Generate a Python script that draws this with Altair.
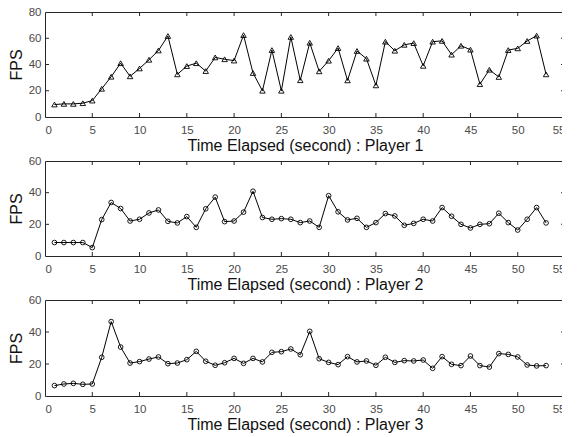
import altair as alt
import pandas as pd

time_s = list(range(1, 54))

fps_p1 = [9.5, 10, 10, 10.5, 12.5, 21.5, 30.7, 41, 31, 37,
          43.6, 50.7, 61.7, 32.5, 38.8, 41, 35, 45.4, 44, 43,
          62.4, 33.5, 20, 51, 20, 61, 28, 56.6, 34.8, 42.9,
          52.5, 27.9, 50.3, 44.4, 24.1, 57.4, 50.5, 55, 56.3, 39,
          57.4, 58, 47.5, 54.3, 51.3, 25, 36, 30.5, 51, 52.3,
          57.9, 62, 32.5]

fps_p2 = [8.5, 8.5, 8.5, 8.5, 5.3, 23, 33.8, 30, 22.1, 23.2,
          27.2, 29.1, 21.9, 20.9, 24.9, 18.1, 29.8, 37.2, 21.7, 22.1,
          27.7, 40.9, 24.3, 23.2, 23.6, 23.2, 21.1, 22.1, 18.1, 38.1,
          27.9, 22.8, 23.8, 18.1, 21.1, 26.8, 25.3, 19.4, 20.6, 23.2,
          22.1, 30.6, 25.1, 20, 17.7, 20, 20.4, 27, 21.1, 16.4,
          23.2, 30.6, 20.9]

fps_p3 = [6.5, 7.5, 7.9, 7.3, 7.5, 24.2, 46.5, 30.6, 20.6, 21.5,
          23.1, 24.4, 20.2, 20.6, 22.7, 27.9, 21.7, 19.2, 20.8, 23.5,
          20.4, 23.5, 21.3, 27.3, 27.7, 29.4, 25.8, 40.4, 23.3, 21,
          19.6, 24.6, 21.3, 21.9, 19.2, 24.2, 21, 22.1, 21.9, 22.5,
          17.3, 24.6, 19.8, 19, 25, 19, 18.1, 26.5, 26, 24.4,
          19.4, 18.8, 19]

x_ticks = [0, 5, 10, 15, 20, 25, 30, 35, 40, 45, 50, 55]
y_ticks_p1 = [0, 20, 40, 60, 80]
y_ticks_p23 = [0, 20, 40, 60]
x_titles = ["Time Elapsed (second) : Player 1",
            "Time Elapsed (second) : Player 2",
            "Time Elapsed (second) : Player 3"]

FONT = "Liberation Sans"
AX = "#262626"
W = 520


def panel(values, shape, size, ymax, yticks, xtitle, height):
    df = pd.DataFrame({"t": time_s, "fps": values})
    xs = alt.Scale(domain=[0, 55], nice=False, zero=False)
    ys = alt.Scale(domain=[0, ymax], nice=False)
    x = alt.X("t:Q", scale=xs,
              axis=alt.Axis(values=x_ticks, title=xtitle, format="d"))
    y = alt.Y("fps:Q", scale=ys,
              axis=alt.Axis(values=yticks, title="FPS", format="d"))
    line = alt.Chart(df).mark_line(color="black", strokeWidth=1).encode(x=x, y=y)
    pts = alt.Chart(df).mark_point(shape=shape, size=size, filled=False,
                                   color="black", strokeWidth=0.9,
                                   opacity=1).encode(x=x, y=y)
    xt = pd.DataFrame({"t": x_ticks[1:-1]})
    yt = pd.DataFrame({"fps": yticks[1:-1]})
    tk = dict(size=8, thickness=1, clip=True, color=AX, opacity=1)
    bottom = alt.Chart(xt).mark_tick(orient="vertical", **tk).encode(x=x, y=alt.value(height))
    top = alt.Chart(xt).mark_tick(orient="vertical", **tk).encode(x=x, y=alt.value(0))
    left = alt.Chart(yt).mark_tick(orient="horizontal", **tk).encode(y=y, x=alt.value(0))
    right = alt.Chart(yt).mark_tick(orient="horizontal", **tk).encode(y=y, x=alt.value(W))
    return alt.layer(line, pts, bottom, top, left, right).properties(width=W, height=height)


p1 = panel(fps_p1, "triangle-up", 30, 80, y_ticks_p1, x_titles[0], 105)
p2 = panel(fps_p2, "circle", 22, 60, y_ticks_p23, x_titles[1], 95)
p3 = panel(fps_p3, "circle", 22, 60, y_ticks_p23, x_titles[2], 96)

chart = alt.vconcat(p1, p2, p3, spacing=0).properties(
    padding={"left": -1, "top": -3, "right": -4, "bottom": 0},
    background="white",
).configure_view(
    stroke=AX, strokeWidth=1
).configure_axis(
    domain=False, ticks=False, grid=False,
    labelFont=FONT, labelFontSize=11.5, labelColor="#4a4a4a",
    titleFont=FONT, titleFontSize=16, titleFontWeight="normal",
    titleColor="#111111",
).configure_axisX(
    labelPadding=7, titlePadding=1.5
).configure_axisY(
    labelPadding=4, titlePadding=4
)

chart.save("out.html", embed_options={"renderer": "svg", "actions": False})
